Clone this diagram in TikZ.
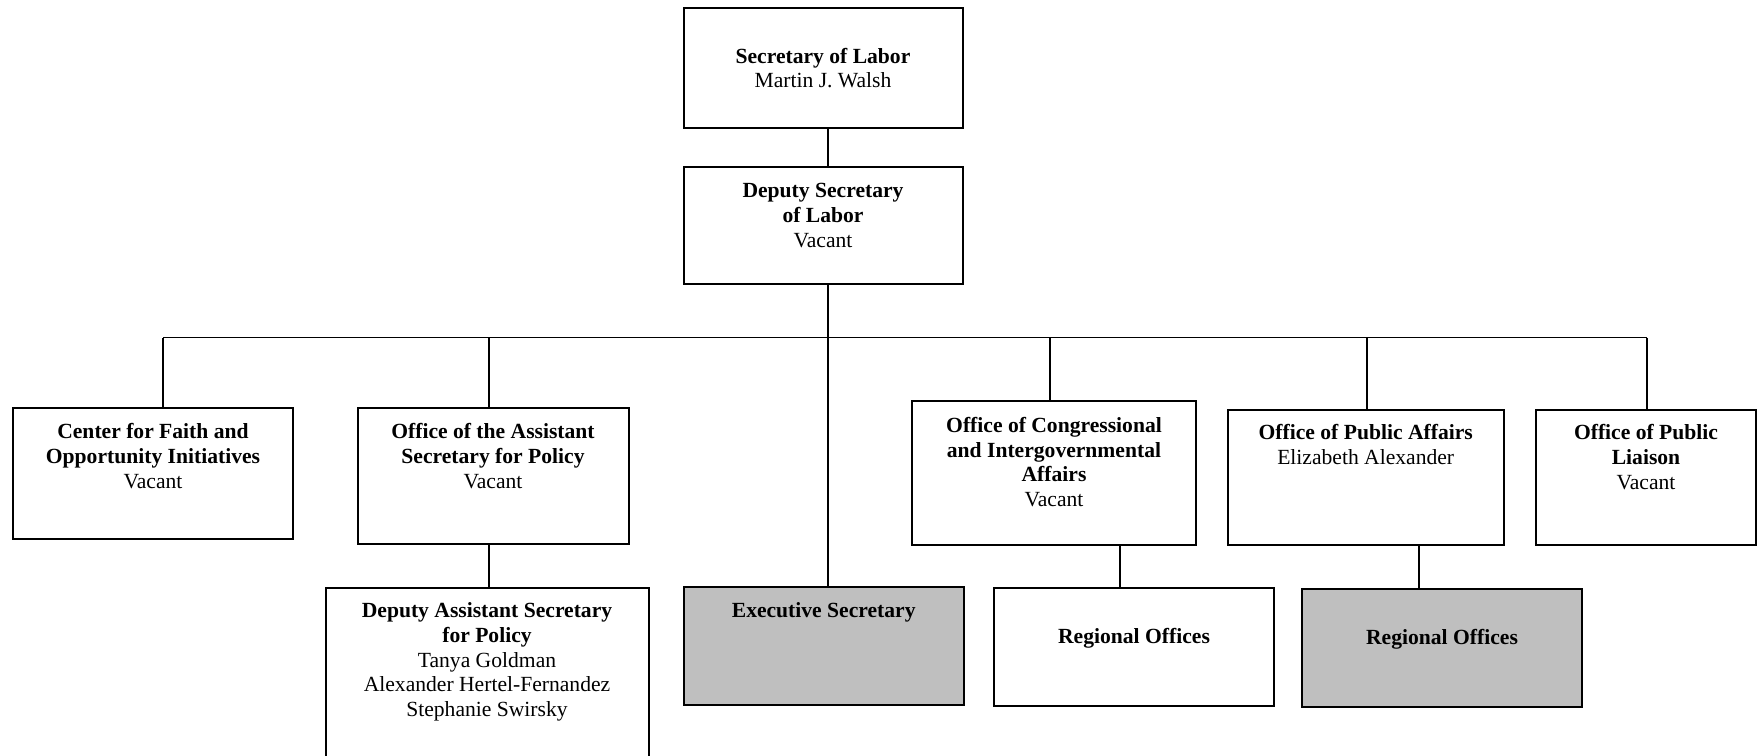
\documentclass[tikz,border=0pt]{standalone}
\usepackage{fontspec}
\setmainfont{Liberation Serif}
\usetikzlibrary{positioning}

\begin{document}
\begin{tikzpicture}[x=1pt, y=-1pt, line width=1.9pt,
  every node/.style = {align=center},
  office/.style = {draw, line width=2pt, inner sep=0pt},
  shaded/.style = {office, fill=gray!50},
  caption/.style = {inner sep=0pt, font=\fontsize{21.6}{24.7}\selectfont}]

\useasboundingbox (0,0) rectangle (1763,755);

% boxes
\node[office, minimum width=279pt, minimum height=120pt] (sec) at (823,68) {};
\node[office, minimum width=279pt, minimum height=117.5pt] (dep) at (823,225.3) {};
\node[office, minimum width=280pt, minimum height=131.5pt] (cfoi) at (153,473.3) {};
\node[office, minimum width=271pt, minimum height=136pt] (oasp) at (493,475.6) {};
\node[office, minimum width=323pt, minimum height=180pt] (dasp) at (487,677.7) {};
\node[shaded, minimum width=280pt, minimum height=118pt] (exec) at (823.7,646) {};
\node[office, minimum width=284.6pt, minimum height=143.7pt] (ocia) at (1054,473) {};
\node[office, minimum width=280pt, minimum height=118pt] (reg1) at (1134,647) {};
\node[office, minimum width=276pt, minimum height=135.3pt] (opa) at (1365.7,477.3) {};
\node[shaded, minimum width=280pt, minimum height=117.7pt] (reg2) at (1442,647.8) {};
\node[office, minimum width=220pt, minimum height=135.3pt] (opl) at (1646,477.3) {};

% texts
\node[caption, below=40pt of sec.north] (sec-t) {\textbf{Secretary of Labor}\\Martin J. Walsh};
\node[caption, below=17pt of dep.north] (dep-t) {\textbf{Deputy Secretary}\\\textbf{of Labor}\\Vacant};
\node[caption, below=16pt of cfoi.north] (cfoi-t) {\textbf{Center for Faith and}\\\textbf{Opportunity Initiatives}\\Vacant};
\node[caption, below=16pt of oasp.north] (oasp-t) {\textbf{Office of the Assistant}\\\textbf{Secretary for Policy}\\Vacant};
\node[caption, below=15pt of dasp.north] (dasp-t) {\textbf{Deputy Assistant Secretary}\\\textbf{for Policy}\\Tanya Goldman\\Alexander Hertel-Fernandez\\Stephanie Swirsky};
\node[caption, below=16pt of exec.north] (exec-t) {\textbf{Executive Secretary}};
\node[caption, below=16pt of ocia.north] (ocia-t) {\textbf{Office of Congressional}\\\textbf{and Intergovernmental}\\\textbf{Affairs}\\Vacant};
\node[caption, below=40pt of reg1.north] (reg1-t) {\textbf{Regional Offices}};
\node[caption, below=15pt of opa.north] (opa-t) {\textbf{Office of Public Affairs}\\Elizabeth Alexander};
\node[caption, below=40pt of reg2.north] (reg2-t) {\textbf{Regional Offices}};
\node[caption, below=15pt of opl.north] (opl-t) {\textbf{Office of Public}\\\textbf{Liaison}\\Vacant};

% connectors
\coordinate (spine) at (827.6,0);
\coordinate (bar-w) at (163,337.5);
\coordinate (bar-e) at (1647,337.5);

\draw (sec.south -| spine) -- (dep.north -| spine);
\draw (dep.south -| spine) -- (exec.north -| spine);
\draw (bar-w) -- (bar-e);
\draw (bar-w) -- (cfoi.north -| bar-w);
\draw ([xshift=-4pt]oasp.north) -- ([xshift=-4pt]oasp.north |- bar-w);
\draw ([xshift=-4pt]ocia.north) -- ([xshift=-4pt]ocia.north |- bar-w);
\draw ([xshift=1.3pt]opa.north) -- ([xshift=1.3pt]opa.north |- bar-w);
\draw (bar-e) -- (opl.north -| bar-e);

\draw ([xshift=-4pt]oasp.south) -- ([xshift=-4pt]oasp.south |- dasp.north);
\draw ([xshift=-14pt]reg1.north) -- ([xshift=-14pt]reg1.north |- ocia.south);
\draw ([xshift=-23pt]reg2.north) -- ([xshift=-23pt]reg2.north |- opa.south);
\end{tikzpicture}
\end{document}
